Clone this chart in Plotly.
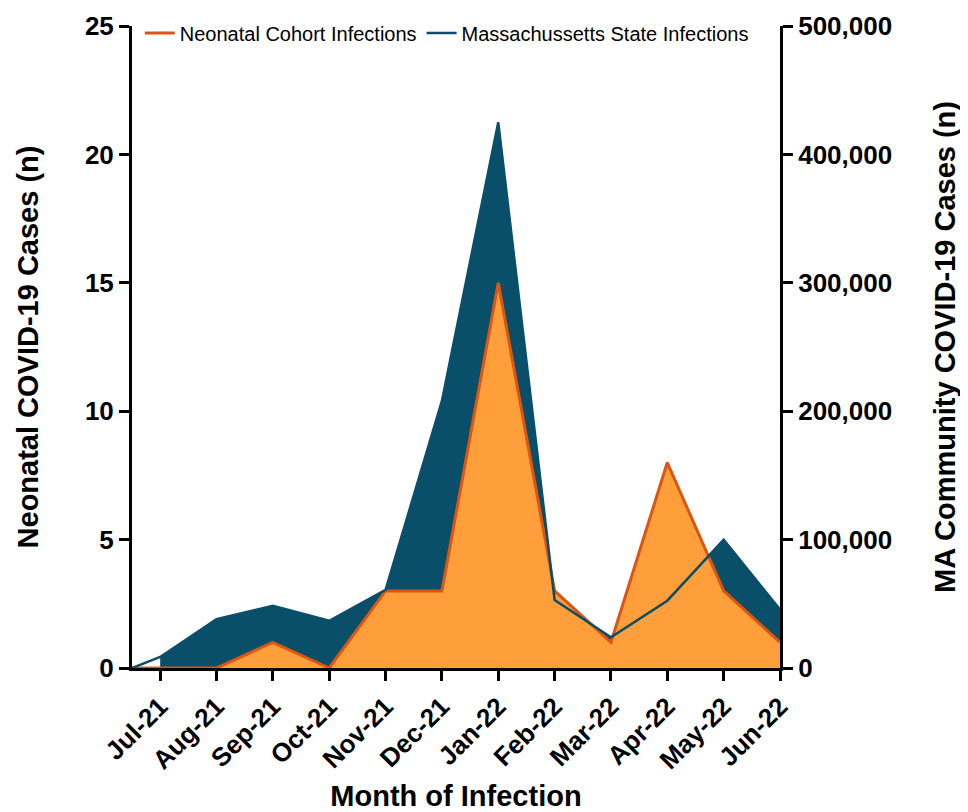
import plotly.graph_objects as go

months = ["Jul-21", "Aug-21", "Sep-21", "Oct-21", "Nov-21", "Dec-21",
          "Jan-22", "Feb-22", "Mar-22", "Apr-22", "May-22", "Jun-22"]
neonatal_cases = [0, 0, 1, 0, 3, 3, 15, 3, 1, 8, 3, 1]
ma_cases = [8600, 38000, 48500, 36800, 60800, 208000, 425000, 53000, 23900, 52400, 100000, 45500]

left_ticks = [0, 5, 10, 15, 20, 25]
right_ticks = [0, 100000, 200000, 300000, 400000, 500000]

TEAL = "#0A4F69"
ORANGE_FILL = "#FF9F3B"
ORANGE_LINE = "#DC5512"
FONT = "Liberation Sans, Arial, Helvetica, sans-serif"

pos = list(range(len(months)))
x_start = -0.5  # axis origin (series start at the origin)
x_line = [x_start] + pos

fig = go.Figure()

# Massachusetts state area (drawn underneath)
fig.add_trace(go.Scatter(
    x=pos, y=ma_cases, mode="lines", fill="tozeroy",
    line=dict(width=0, color=TEAL), fillcolor=TEAL,
    showlegend=False, hoverinfo="skip", yaxis="y"))

# Neonatal cohort area
fig.add_trace(go.Scatter(
    x=x_line, y=[0] + neonatal_cases, mode="lines", fill="tozeroy",
    line=dict(width=0, color=ORANGE_FILL), fillcolor=ORANGE_FILL,
    showlegend=False, hoverinfo="skip", yaxis="y2"))
fig.add_trace(go.Scatter(
    x=x_line, y=[0] + neonatal_cases, mode="lines",
    line=dict(width=3, color=ORANGE_LINE),
    name="Neonatal Cohort Infections", yaxis="y2"))

# Massachusetts state line on top
fig.add_trace(go.Scatter(
    x=x_line, y=[0] + ma_cases, mode="lines",
    line=dict(width=2.5, color=TEAL),
    name="Massachussetts State Infections", yaxis="y3"))

tick_font = dict(family=FONT, size=26, color="black", weight="bold")
title_font = dict(family=FONT, size=29, color="black", weight="bold")

axis_common = dict(showline=True, linewidth=3, linecolor="black",
                   ticks="outside", ticklen=10, tickwidth=3, tickcolor="black",
                   showgrid=False, zeroline=False, tickfont=tick_font, automargin=False)

fig.update_layout(
    width=960, height=804,
    margin=dict(l=124, r=188, t=18, b=144, autoexpand=False),
    paper_bgcolor="white", plot_bgcolor="white",
    xaxis=dict(range=[x_start, len(months) - 1], tickvals=pos, ticktext=months,
               tickangle=-45, title=dict(text="Month of Infection", font=title_font, standoff=20),
               **axis_common),
    yaxis=dict(range=[0, right_ticks[-1]], visible=False, showgrid=False, zeroline=False),
    yaxis2=dict(overlaying="y", side="left", range=[0, left_ticks[-1]], tickvals=left_ticks,
                title=dict(text="Neonatal COVID-19 Cases (n)", font=title_font, standoff=38),
                **axis_common),
    yaxis3=dict(overlaying="y", side="right", range=[0, right_ticks[-1]], tickvals=right_ticks,
                tickformat=",", title=dict(text="MA Community COVID-19 Cases (n)", font=title_font, standoff=44),
                **axis_common),
    legend=dict(orientation="h", x=0.012, xanchor="left", y=0.989, yanchor="middle",
                bgcolor="rgba(0,0,0,0)", font=dict(family=FONT, size=20, color="black"),
                itemwidth=30, tracegroupgap=0),
    showlegend=True,
)

fig.write_html("out.html")
